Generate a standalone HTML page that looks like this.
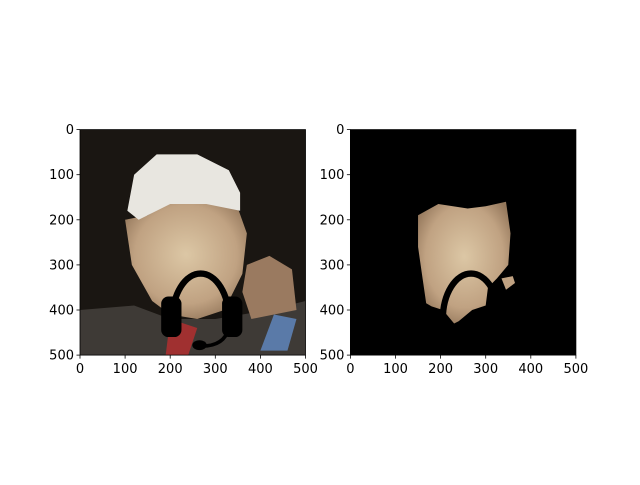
<!DOCTYPE html>
<html><head><meta charset="utf-8"><style>
body{margin:0;background:#fff;}
svg text{font-family:"DejaVu Sans","Liberation Sans",sans-serif;font-size:13px;fill:#000;}
</style></head><body>
<svg width="640" height="480" viewBox="0 0 640 480">
<defs>
<clipPath id="c1"><rect x="80" y="129.6" width="225.5" height="225.5"/></clipPath>
<clipPath id="c2"><rect x="350.4" y="129.6" width="225.5" height="225.5"/></clipPath>
<radialGradient id="skin" cx="0.5" cy="0.45" r="0.6"><stop offset="0" stop-color="#dcc7a5"/><stop offset="0.7" stop-color="#c0a282"/><stop offset="1" stop-color="#95785c"/></radialGradient>
</defs>
<g id="left" clip-path="url(#c1)"></g>
<g id="right" clip-path="url(#c2)"></g>
<g id="axes"></g>
</svg>
<script>
const ticks=[0,100,200,300,400,500];
const axesX=[80,350.4];
const top0=129.6,size=225.5;
const NS="http://www.w3.org/2000/svg";
function mk(p,t,a){const e=document.createElementNS(NS,t);for(const k in a)e.setAttribute(k,a[k]);p.appendChild(e);return e;}
function pts(ox,arr){return arr.map(p=>(ox+p[0]/500*size)+","+(top0+p[1]/500*size)).join(" ");}
const face=[[150,190],[195,165],[260,175],[300,170],[345,160],[355,230],[350,300],[325,330],[305,350],[300,390],[270,400],[240,425],[230,430],[205,400],[180,392],[168,385],[160,330],[150,260]];
const L=document.getElementById('left'),lx=axesX[0];
mk(L,'rect',{x:lx,y:top0,width:size,height:size,fill:'#1a1612'});
mk(L,'polygon',{points:pts(lx,[[0,400],[120,390],[200,420],[300,420],[420,400],[500,380],[500,500],[0,500]]),fill:'#3e3a36'});
mk(L,'polygon',{points:pts(lx,[[370,300],[420,280],[470,310],[480,400],[380,420],[360,360]]),fill:'#9a7a60'});
mk(L,'polygon',{points:pts(lx,[[100,200],[150,190],[195,165],[345,160],[370,230],[360,320],[320,400],[260,420],[200,410],[160,380],[115,300]]),fill:'url(#skin)'});
mk(L,'polygon',{points:pts(lx,[[105,180],[120,100],[170,55],[260,55],[330,90],[355,140],[355,180],[280,165],[200,165],[130,200]]),fill:'#e8e6e0'});
mk(L,'polygon',{points:pts(lx,[[430,410],[480,420],[460,490],[400,490]]),fill:'#5a7aa8'});
mk(L,'polygon',{points:pts(lx,[[200,420],[260,440],[240,500],[190,500]]),fill:'#a03030'});
const R=document.getElementById('right'),rx=axesX[1];
mk(R,'rect',{x:rx,y:top0,width:size,height:size,fill:'#000'});
mk(R,'polygon',{points:pts(rx,face),fill:'url(#skin)'});
mk(R,'polygon',{points:pts(rx,[[335,330],[360,325],[365,340],[345,355]]),fill:'#c0a282'});
[[L,lx],[R,rx]].forEach(([g,ox],i)=>{
 const s=v=>v/500*size;
 mk(g,'path',{d:`M${ox+s(205)},${top0+s(420)} A${s(62)},${s(100)} 0 1 1 ${ox+s(330)},${top0+s(420)}`,fill:'none',stroke:'#000','stroke-width':s(14)});
 if(i==0){
 mk(g,'rect',{x:ox+s(180),y:top0+s(370),width:s(45),height:s(90),rx:s(16),fill:'#000'});
 mk(g,'rect',{x:ox+s(315),y:top0+s(370),width:s(45),height:s(90),rx:s(16),fill:'#000'});
 mk(g,'path',{d:`M${ox+s(330)},${top0+s(440)} Q${ox+s(320)},${top0+s(480)} ${ox+s(270)},${top0+s(480)}`,fill:'none',stroke:'#000','stroke-width':s(8)});
 mk(g,'ellipse',{cx:ox+s(265),cy:top0+s(478),rx:s(16),ry:s(11),fill:'#000'});
 }
});
const A=document.getElementById('axes');
axesX.forEach((ox,i)=>{
 const fr=mk(A,'rect',{x:ox,y:top0,width:size,height:size,fill:'none',stroke:'#000','stroke-width':0.8});
 
 
 ticks.forEach(t=>{
  const x=ox+t/500*size,y=top0+t/500*size;
  mk(A,'line',{x1:x,y1:top0+size,x2:x,y2:top0+size+3.5,stroke:'#000','stroke-width':0.8});
  const tx=mk(A,'text',{x:x,y:top0+size+18,'text-anchor':'middle'});tx.textContent=t;
  
  
  mk(A,'line',{x1:ox,y1:y,x2:ox-3.5,y2:y,stroke:'#000','stroke-width':0.8});
  const ty=mk(A,'text',{x:ox-6,y:y+4.5,'text-anchor':'end'});ty.textContent=t;
  
  
 });
});
</script>
</body></html>
